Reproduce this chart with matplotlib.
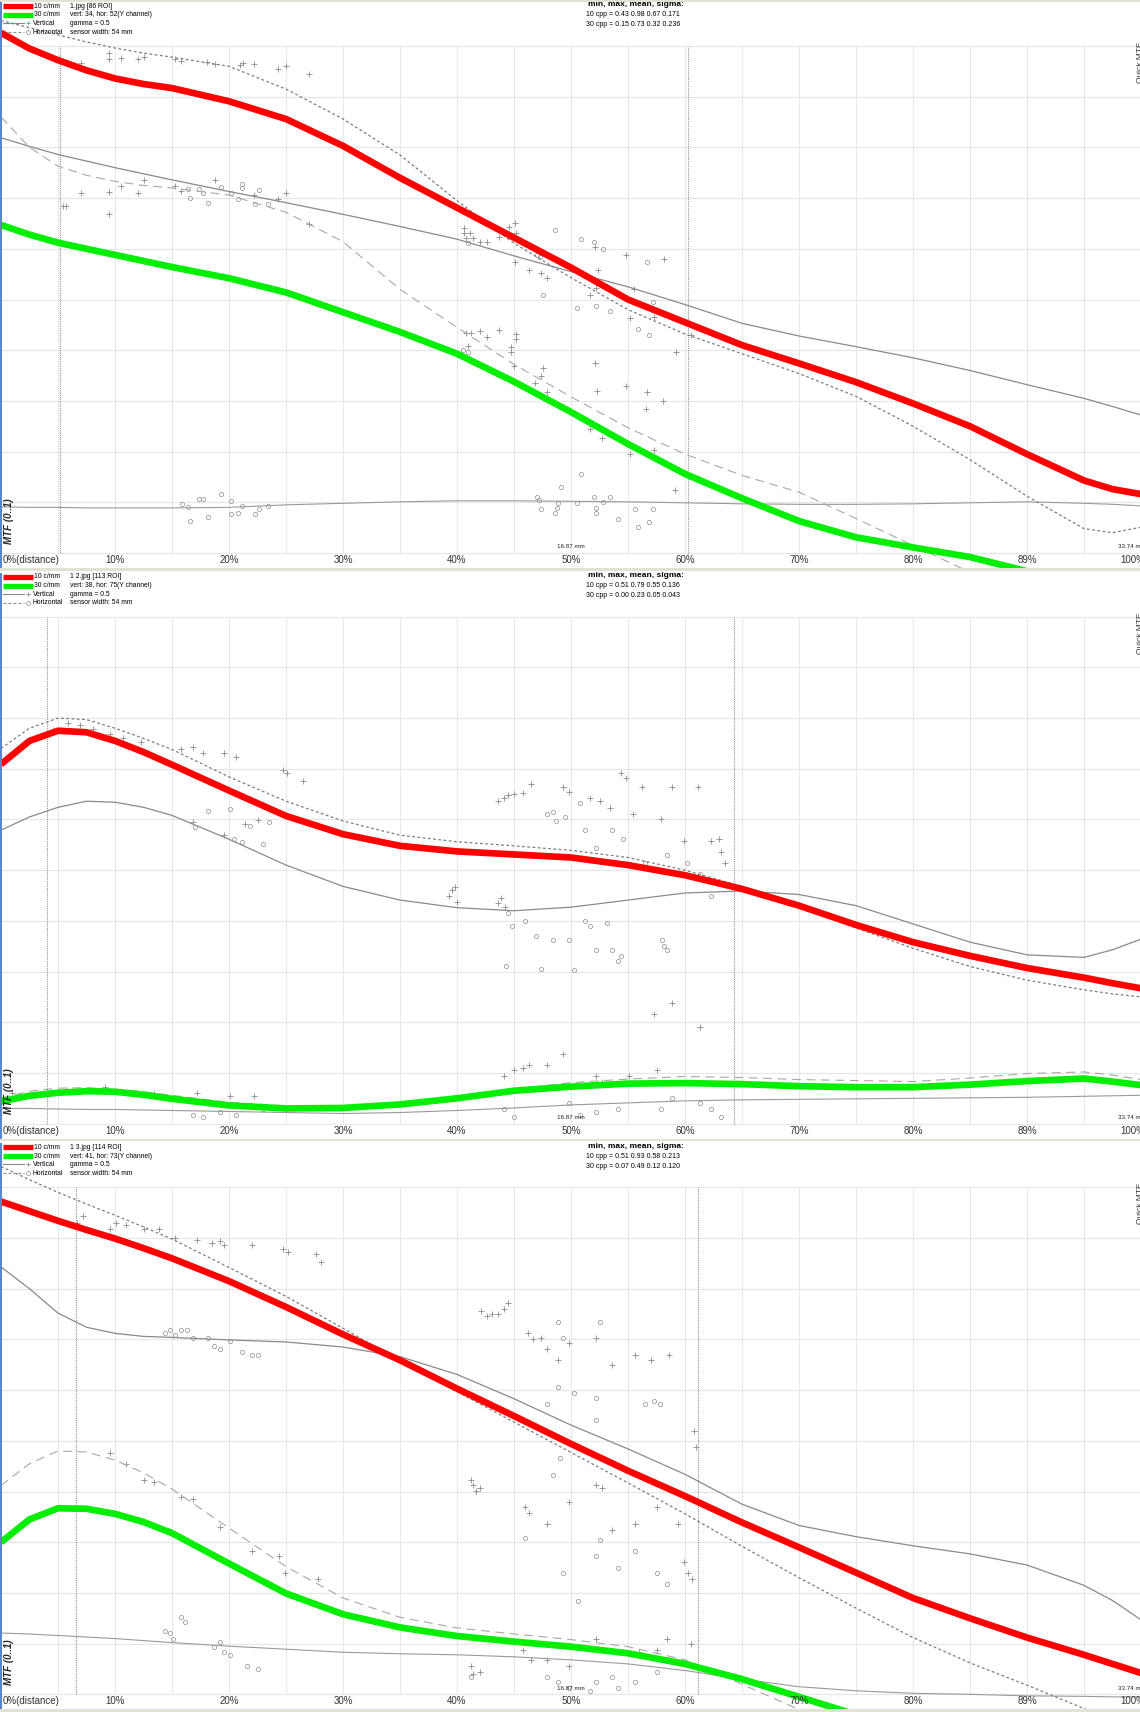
import numpy as np
import matplotlib.pyplot as plt
from matplotlib.patches import Rectangle

plt.rcParams['font.family'] = ['Liberation Sans', 'DejaVu Sans']

# distance from centre, % of the frame (denser where the curves bend)
pos = [0, 2.5, 5, 7.5, 10, 12.5, 15, 20, 25, 30, 35, 40, 45, 50, 55, 60, 65, 70, 75, 80, 85, 90, 95, 97.5, 100]
tick_pos = [0, 10, 20, 30, 40, 50, 60, 70, 80, 90, 99.3]
tick_labels = ['0%(distance)', '10%', '20%', '30%', '40%', '50%', '60%', '70%', '80%', '89%', '100%']

# ---- panel 1 : 1.jpg
p1_red = [1.026, 0.995, 0.972, 0.952, 0.936, 0.925, 0.917, 0.891, 0.856, 0.803, 0.740, 0.681, 0.622,
          0.563, 0.500, 0.455, 0.410, 0.374, 0.337, 0.295, 0.250, 0.195, 0.143, 0.126, 0.116]
p1_green = [0.647, 0.628, 0.612, 0.600, 0.588, 0.576, 0.564, 0.542, 0.514, 0.475, 0.436, 0.393, 0.338,
            0.278, 0.215, 0.156, 0.108, 0.063, 0.031, 0.011, -0.008, -0.036, -0.06, -0.07, -0.08]
p1_v10 = [0.819, 0.802, 0.786, 0.773, 0.760, 0.748, 0.736, 0.713, 0.691, 0.668, 0.644, 0.619, 0.586,
          0.555, 0.525, 0.490, 0.453, 0.428, 0.407, 0.385, 0.360, 0.332, 0.305, 0.289, 0.272]
p1_h10 = [1.05, 1.036, 1.022, 1.008, 0.996, 0.986, 0.978, 0.960, 0.915, 0.856, 0.785, 0.695, 0.611,
          0.543, 0.480, 0.432, 0.393, 0.354, 0.309, 0.250, 0.184, 0.112, 0.048, 0.040, 0.051]
p1_v30 = [0.091, 0.090, 0.090, 0.089, 0.089, 0.089, 0.089, 0.090, 0.095, 0.098, 0.101, 0.103, 0.103,
          0.102, 0.101, 0.099, 0.097, 0.096, 0.096, 0.097, 0.099, 0.101, 0.098, 0.096, 0.093]
p1_h30 = [0.860, 0.800, 0.763, 0.745, 0.733, 0.725, 0.720, 0.706, 0.672, 0.614, 0.520, 0.445, 0.372,
          0.308, 0.247, 0.195, 0.153, 0.120, 0.068, 0.015, -0.038, -0.09, -0.14, -0.165, -0.19]
p1_plus_x = [5.2, 7.0, 9.5, 9.5, 10.5, 12.0, 12.5, 15.3, 15.8, 18.1, 18.8, 21.0, 21.2, 22.2, 24.3, 25.0, 27.0,
             5.4, 5.7, 7.0, 9.5, 9.5, 10.5, 12.0, 12.5, 15.3, 15.8, 18.8, 22.2, 24.3, 25.0, 27.0,
             40.6, 40.6, 40.8, 41.1, 41.4, 42.0, 42.6, 43.7, 44.6, 45.1, 45.2, 45.1, 46.3, 47.4, 47.9,
             52.1, 52.4, 51.7, 54.8, 58.2, 55.5, 52.2, 55.2, 57.3, 59.2, 60.5,
             40.8, 41.2, 41.0, 42.0, 42.6, 43.7, 44.7, 44.7, 45.2, 45.2, 45.0, 46.8, 47.5, 47.4, 47.9,
             51.7, 52.1, 52.3, 54.8, 56.7, 56.6, 58.1, 52.7, 55.2, 57.3, 59.1]
p1_plus_y = [0.976, 0.966, 0.986, 0.974, 0.976, 0.974, 0.978, 0.974, 0.970, 0.968, 0.964, 0.962, 0.966, 0.964, 0.955, 0.961, 0.945,
             0.684, 0.684, 0.710, 0.712, 0.669, 0.724, 0.710, 0.736, 0.724, 0.714, 0.736, 0.706, 0.698, 0.710, 0.649,
             0.641, 0.631, 0.621, 0.631, 0.621, 0.613, 0.613, 0.623, 0.643, 0.651, 0.631, 0.574, 0.558, 0.552, 0.542,
             0.604, 0.558, 0.509, 0.588, 0.580, 0.521, 0.523, 0.464, 0.465, 0.396, 0.430,
             0.434, 0.434, 0.408, 0.438, 0.426, 0.440, 0.406, 0.396, 0.432, 0.422, 0.369, 0.335, 0.365, 0.349, 0.318,
             0.245, 0.375, 0.320, 0.329, 0.318, 0.284, 0.300, 0.227, 0.195, 0.203, 0.124]
p1_circ_x = [16.4, 16.6, 17.4, 17.7, 18.2, 19.3, 20.2, 20.8, 21.1, 21.1, 22.3, 22.6, 23.4,
             41.0, 47.0, 47.3, 48.6, 47.5, 50.9, 52.0, 52.8, 56.7, 40.5, 41.0, 50.5, 52.2, 53.4, 55.9, 56.8, 57.2,
             15.9, 16.4, 16.6, 17.4, 17.7, 18.2, 19.3, 20.2, 20.2, 20.8, 21.1, 22.3, 22.6, 23.4,
             47.0, 47.2, 47.4, 48.6, 48.8, 48.9, 49.1, 50.5, 50.9, 52.0, 52.2, 52.2, 52.8, 53.4, 55.6, 57.2, 54.1, 56.8, 55.9]
p1_circ_y = [0.718, 0.700, 0.718, 0.710, 0.690, 0.722, 0.710, 0.698, 0.720, 0.728, 0.688, 0.716, 0.688,
             0.611, 0.588, 0.584, 0.637, 0.509, 0.619, 0.613, 0.600, 0.574, 0.400, 0.396, 0.483, 0.487, 0.477, 0.442, 0.430, 0.495,
             0.097, 0.091, 0.063, 0.107, 0.107, 0.071, 0.116, 0.103, 0.077, 0.079, 0.093, 0.077, 0.087, 0.093,
             0.110, 0.105, 0.087, 0.079, 0.089, 0.099, 0.130, 0.099, 0.156, 0.110, 0.089, 0.079, 0.101, 0.110, 0.087, 0.087, 0.067, 0.061, 0.051]
p1_marks = [5.2, 60.3]
p1_info = ['1.jpg [86 ROI]', 'vert: 34, hor: 52(Y channel)', 'gamma = 0.5', 'sensor width: 54 mm']
p1_stats = ['10 cpp = 0.43 0.98 0.67 0.171', '30 cpp = 0.15 0.73 0.32 0.236']

# ---- panel 2 : 1 2.jpg
p2_red = [0.709, 0.755, 0.775, 0.772, 0.755, 0.733, 0.708, 0.657, 0.607, 0.571, 0.548, 0.537, 0.531,
          0.525, 0.510, 0.490, 0.463, 0.430, 0.392, 0.358, 0.331, 0.307, 0.288, 0.277, 0.267]
p2_green = [0.044, 0.055, 0.061, 0.064, 0.063, 0.057, 0.049, 0.036, 0.030, 0.031, 0.038, 0.050, 0.065,
            0.073, 0.079, 0.080, 0.078, 0.074, 0.072, 0.072, 0.077, 0.084, 0.089, 0.083, 0.076]
p2_v10 = [0.579, 0.605, 0.624, 0.636, 0.634, 0.624, 0.608, 0.561, 0.510, 0.468, 0.441, 0.426, 0.420,
          0.427, 0.441, 0.455, 0.459, 0.452, 0.430, 0.394, 0.358, 0.333, 0.328, 0.343, 0.364]
p2_h10 = [0.740, 0.780, 0.800, 0.797, 0.780, 0.760, 0.738, 0.684, 0.636, 0.597, 0.569, 0.556, 0.548,
          0.539, 0.525, 0.500, 0.468, 0.428, 0.386, 0.346, 0.310, 0.283, 0.264, 0.256, 0.250]
p2_v30 = [0.030, 0.030, 0.029, 0.028, 0.028, 0.027, 0.026, 0.024, 0.022, 0.020, 0.022, 0.026, 0.031,
          0.037, 0.041, 0.045, 0.047, 0.048, 0.049, 0.050, 0.051, 0.052, 0.054, 0.055, 0.056]
p2_h30 = [0.051, 0.064, 0.070, 0.071, 0.068, 0.063, 0.056, 0.042, 0.035, 0.033, 0.040, 0.054, 0.068,
          0.081, 0.088, 0.093, 0.091, 0.087, 0.085, 0.083, 0.090, 0.099, 0.102, 0.096, 0.087]
p2_plus_x = [4.6, 5.9, 6.9, 8.1, 9.6, 10.7, 12.3, 15.8, 16.8, 17.7, 19.6, 20.6, 24.7, 25.1, 26.5,
             16.8, 19.6, 21.4, 22.5,
             43.6, 44.1, 44.5, 45.0, 45.8, 46.5, 49.3, 49.8, 51.7, 52.5, 53.4, 54.4, 54.8, 55.4, 56.2, 57.9,
             58.9, 59.9, 61.1, 62.3, 63.0, 63.2, 63.5, 57.3, 58.9, 61.3,
             39.3, 39.6, 39.8, 40.0, 43.6, 43.9, 44.2,
             1.0, 5.7, 9.1, 13.4, 17.2, 20.1, 22.2, 44.1, 45.0, 45.8, 46.3, 47.9, 49.3, 52.2, 52.7, 55.1, 57.5]
p2_plus_y = [0.777, 0.790, 0.786, 0.779, 0.769, 0.760, 0.752, 0.739, 0.743, 0.731, 0.731, 0.724, 0.698, 0.692, 0.675,
             0.595, 0.569, 0.591, 0.599,
             0.637, 0.643, 0.648, 0.650, 0.653, 0.670, 0.665, 0.654, 0.643, 0.637, 0.622, 0.691, 0.682, 0.611, 0.665, 0.600,
             0.665, 0.557, 0.665, 0.557, 0.561, 0.536, 0.514, 0.216, 0.238, 0.190,
             0.449, 0.460, 0.466, 0.438, 0.436, 0.445, 0.428,
             0.061, 0.066, 0.072, 0.061, 0.061, 0.055, 0.055, 0.094, 0.105, 0.109, 0.115, 0.115, 0.137, 0.094, 0.083, 0.094, 0.105]
p2_circ_x = [17.0, 18.2, 20.1, 20.4, 21.1, 21.8, 23.0, 23.5,
             44.5, 44.8, 44.3, 46.0, 46.9, 47.4, 47.9, 48.4, 48.7, 49.5, 48.4, 49.8, 50.3, 51.2, 51.7, 52.2, 53.2,
             53.6, 54.1, 54.4, 58.0, 58.2, 58.4, 50.8, 51.2, 52.2, 53.6, 54.6, 56.5, 58.4, 60.2, 61.3, 62.3,
             16.8, 17.7, 19.2, 20.6, 23.0, 44.1, 45.0, 49.8, 50.8, 52.2, 54.1, 57.9, 58.9, 61.3, 62.3, 63.2]
p2_circ_y = [0.585, 0.617, 0.621, 0.561, 0.556, 0.587, 0.552, 0.595,
             0.415, 0.389, 0.311, 0.400, 0.370, 0.305, 0.611, 0.615, 0.596, 0.605, 0.363, 0.363, 0.303, 0.400, 0.389, 0.342, 0.395,
             0.342, 0.320, 0.331, 0.363, 0.350, 0.342, 0.633, 0.579, 0.544, 0.579, 0.561, 0.514, 0.529, 0.514, 0.492, 0.449,
             0.018, 0.014, 0.023, 0.018, 0.029, 0.029, 0.014, 0.040, 0.018, 0.023, 0.029, 0.029, 0.051, 0.040, 0.029, 0.014]
p2_marks = [4.0, 64.3]
p2_info = ['1 2.jpg [113 ROI]', 'vert: 38, hor: 75(Y channel)', 'gamma = 0.5', 'sensor width: 54 mm']
p2_stats = ['10 cpp = 0.51 0.79 0.55 0.136', '30 cpp = 0.00 0.23 0.05 0.043']

# ---- panel 3 : 1 3.jpg
p3_red = [0.972, 0.953, 0.934, 0.916, 0.899, 0.880, 0.860, 0.815, 0.764, 0.710, 0.659, 0.603, 0.549,
          0.494, 0.441, 0.391, 0.339, 0.290, 0.240, 0.190, 0.150, 0.112, 0.078, 0.060, 0.042]
p3_green = [0.300, 0.345, 0.367, 0.366, 0.356, 0.340, 0.318, 0.258, 0.199, 0.158, 0.132, 0.115, 0.104,
            0.094, 0.081, 0.060, 0.030, -0.005, -0.040, -0.08, -0.12, -0.16, -0.2, -0.22, -0.24]
p3_v10 = [0.843, 0.800, 0.752, 0.724, 0.712, 0.706, 0.704, 0.699, 0.695, 0.685, 0.666, 0.631, 0.583,
          0.531, 0.484, 0.434, 0.375, 0.333, 0.311, 0.293, 0.277, 0.255, 0.215, 0.185, 0.147]
p3_h10 = [1.041, 1.015, 0.990, 0.967, 0.945, 0.922, 0.898, 0.842, 0.785, 0.722, 0.658, 0.597, 0.537,
          0.477, 0.417, 0.356, 0.292, 0.230, 0.170, 0.112, 0.062, 0.018, -0.028, -0.05, -0.07]
p3_v30 = [0.121, 0.119, 0.116, 0.113, 0.110, 0.106, 0.102, 0.095, 0.089, 0.083, 0.080, 0.078, 0.074,
          0.068, 0.060, 0.047, 0.030, 0.015, 0.007, 0.002, 0.000, -0.003, -0.004, -0.005, -0.005]
p3_h30 = [0.412, 0.455, 0.480, 0.478, 0.462, 0.437, 0.405, 0.328, 0.252, 0.190, 0.152, 0.131, 0.119,
          0.108, 0.094, 0.068, 0.020, -0.030, -0.08, -0.13, -0.18, -0.23, -0.28, -0.3, -0.33]
p3_plus_x = [6.7, 7.2, 9.6, 10.1, 11.0, 12.5, 13.9, 15.3, 17.2, 18.5, 19.2, 19.6, 22.0, 24.7, 25.2, 27.6, 28.1,
             9.6, 11.0, 12.5, 13.4, 15.8, 16.8, 19.2, 22.0, 24.4, 24.9, 27.8,
             42.1, 42.6, 43.1, 43.6, 44.1, 44.5, 46.2, 46.7, 47.4, 47.9, 48.9, 49.8, 52.2, 53.6, 55.6, 57.0, 58.6,
             41.2, 41.4, 41.7, 42.0, 46.0, 46.3, 47.9, 49.8, 52.2, 52.7, 53.6, 55.6, 57.5, 59.4, 59.9, 60.3, 60.6, 60.8, 61.0,
             41.2, 41.4, 42.0, 45.8, 46.5, 47.9, 49.8, 52.2, 56.0, 57.5, 58.4, 60.5]
p3_plus_y = [0.929, 0.944, 0.918, 0.929, 0.925, 0.918, 0.918, 0.901, 0.897, 0.890, 0.894, 0.886, 0.886, 0.879, 0.873, 0.869, 0.853,
             0.476, 0.455, 0.422, 0.418, 0.390, 0.386, 0.330, 0.282, 0.272, 0.239, 0.228,
             0.756, 0.746, 0.750, 0.750, 0.761, 0.772, 0.713, 0.700, 0.703, 0.681, 0.659, 0.692, 0.703, 0.649, 0.670, 0.659, 0.670,
             0.422, 0.412, 0.401, 0.407, 0.369, 0.358, 0.336, 0.379, 0.412, 0.407, 0.325, 0.336, 0.369, 0.336, 0.261, 0.239, 0.228, 0.519, 0.487,
             0.056, 0.041, 0.045, 0.088, 0.067, 0.067, 0.056, 0.110, 0.084, 0.088, 0.110, 0.099]
p3_circ_x = [14.4, 14.8, 15.3, 15.8, 16.3, 16.8, 18.2, 18.7, 19.2, 20.1, 21.1, 22.0, 22.5,
             14.4, 14.8, 15.1, 15.8, 16.1, 18.7, 19.6, 20.1, 21.6, 22.5, 19.2,
             48.9, 49.3, 48.9, 50.3, 52.2, 52.5, 56.5, 57.3, 57.8, 47.9, 52.2,
             46.0, 48.4, 49.0, 51.7, 52.2, 52.5, 54.1, 55.6, 57.5, 58.4, 49.3, 50.6,
             41.2, 47.9, 48.9, 49.8, 51.7, 52.2, 53.6, 54.1, 55.6, 57.5, 58.4]
p3_circ_y = [0.713, 0.718, 0.709, 0.718, 0.718, 0.703, 0.703, 0.688, 0.681, 0.696, 0.675, 0.670, 0.670,
             0.125, 0.121, 0.110, 0.153, 0.142, 0.093, 0.084, 0.078, 0.056, 0.050, 0.103,
             0.735, 0.703, 0.606, 0.595, 0.584, 0.735, 0.573, 0.578, 0.573, 0.573, 0.541,
             0.308, 0.433, 0.466, 0.476, 0.272, 0.304, 0.250, 0.282, 0.239, 0.218, 0.239, 0.185,
             0.034, 0.034, 0.024, 0.013, 0.006, 0.024, 0.034, 0.013, 0.024, 0.045, 0.067]
p3_marks = [6.6, 61.1]
p3_info = ['1 3.jpg [114 ROI]', 'vert: 41, hor: 73(Y channel)', 'gamma = 0.5', 'sensor width: 54 mm']
p3_stats = ['10 cpp = 0.51 0.93 0.58 0.213', '30 cpp = 0.07 0.49 0.12 0.120']

panels = [
    (p1_red, p1_green, p1_v10, p1_h10, p1_v30, p1_h30, p1_plus_x, p1_plus_y, p1_circ_x, p1_circ_y, p1_marks, p1_info, p1_stats),
    (p2_red, p2_green, p2_v10, p2_h10, p2_v30, p2_h30, p2_plus_x, p2_plus_y, p2_circ_x, p2_circ_y, p2_marks, p2_info, p2_stats),
    (p3_red, p3_green, p3_v10, p3_h10, p3_v30, p3_h30, p3_plus_x, p3_plus_y, p3_circ_x, p3_circ_y, p3_marks, p3_info, p3_stats),
]

W, H = 1140, 1712
PH = H / 3.0
fig = plt.figure(figsize=(W / 100, H / 100), dpi=100)
fig.patch.set_facecolor('white')


# pixel helpers inside one panel (x from left, y from top of panel)
def hx(px):
    return (px - 1) / 11.40


def hy(py):
    return (553 - py) / 507.0


gray = '#8a8a8a'
for k, (red, green, v10, h10, v30, h30, px_, py_, cx_, cy_, marks, info, stats) in enumerate(panels):
    top = PH * k + 2
    bot = PH * k + 568
    ax = fig.add_axes([1 / W, 1 - bot / H, 1139 / W, (bot - top) / H])
    ax.set_xlim(0, 99.91)
    ax.set_ylim(hy(568), hy(2))
    ax.axis('off')

    # grid: every 5 % and every 0.1
    ax.vlines(np.arange(0, 101, 5), 0, 1, color='#e8e8e8', lw=0.8, zorder=0)
    ax.hlines(np.arange(0, 1.01, 0.1), 0, 100, color='#e6e6e6', lw=0.8, zorder=0)
    ax.vlines(marks, 0, 1, color='#909090', lw=0.8, linestyles=(0, (1, 1)), zorder=1)

    ax.plot(px_, py_, ls='none', marker='+', ms=4, mew=0.6, color='#8c8c8c', zorder=2)
    ax.plot(cx_, cy_, ls='none', marker='o', ms=3, mew=0.5, mfc='none', mec='#8c8c8c', zorder=2)

    ax.plot(pos, v30, color='#9a9a9a', lw=0.8, zorder=3)
    ax.plot(pos, h30, color='#a8a8a8', lw=0.8, ls=(0, (8, 5)), zorder=3)
    ax.plot(pos, v10, color=gray, lw=0.9, zorder=3)
    ax.plot(pos, h10, color='#7c7c7c', lw=0.9, ls=(0, (2.2, 2)), zorder=3)
    ax.plot(pos, green, color='#00ee00', lw=4.8, solid_capstyle='butt', solid_joinstyle='round', zorder=4)
    ax.plot(pos, red, color='#ff0000', lw=4.8, solid_capstyle='butt', solid_joinstyle='round', zorder=5)

    # axis texts
    for t, lab in zip(tick_pos, tick_labels):
        ax.text(t if t else 0.1, hy(560), lab, ha='left' if t == 0 else 'center', va='center',
                fontsize=7, color='#333333', zorder=6)
    ax.text(hx(9), hy(521), 'MTF (0..1)', rotation=90, ha='center', va='center',
            fontsize=7, fontweight='bold', fontstyle='italic', color='#222222', zorder=6)
    ax.text(50, hy(547), '16.87 mm', ha='center', va='center', fontsize=4.5, color='#222222', zorder=6)
    ax.text(hx(1118), hy(547), '33.74 mm', ha='left', va='center', fontsize=4.5, color='#222222', zorder=6)
    ax.text(hx(1137), hy(42), 'Quick MTF', rotation=90, ha='left', va='top', fontsize=6,
            color='#333333', zorder=6, clip_on=True)

    # header legend
    ax.plot([hx(3), hx(33)], [hy(6)] * 2, color='#ff0000', lw=3.8, solid_capstyle='butt', clip_on=False)
    ax.plot([hx(3), hx(33)], [hy(15)] * 2, color='#00ee00', lw=3.8, solid_capstyle='butt', clip_on=False)
    ax.plot([hx(3), hx(24)], [hy(23)] * 2, color=gray, lw=0.8, clip_on=False)
    ax.plot([hx(28)], [hy(23)], marker='+', ms=3.5, mew=0.6, color=gray, clip_on=False)
    ax.plot([hx(3), hx(24)], [hy(32)] * 2, color=gray, lw=0.8, ls=(0, (2.5, 2)), clip_on=False)
    ax.plot([hx(27.5)], [hy(32)], marker='o', ms=2.8, mew=0.5, mfc='none', mec=gray, clip_on=False)
    for i, lab in enumerate(['10 c/mm', '30 c/mm', 'Vertical', 'Horizontal']):
        ax.text(hx(34 if i < 2 else 32.5), hy(6 + 8.7 * i), lab, ha='left', va='center', fontsize=4.9, zorder=6)
        ax.text(hx(70), hy(6 + 8.7 * i), info[i], ha='left', va='center', fontsize=4.9, zorder=6)
    ax.text(hx(636), hy(5), 'min, max, mean, sigma:', ha='center', va='center', fontsize=6,
            fontweight='bold', zorder=6)
    ax.text(hx(633), hy(15), stats[0], ha='center', va='center', fontsize=5.0, zorder=6)
    ax.text(hx(633), hy(25), stats[1], ha='center', va='center', fontsize=5.0, zorder=6)

    # window decorations: blue left border and beige separator
    fig.add_artist(Rectangle((0, 1 - bot / H), 1.6 / W, (bot - top) / H, transform=fig.transFigure,
                             color='#5b86c8', lw=0))
    fig.add_artist(Rectangle((0, 1 - (PH * (k + 1)) / H), 1, 2.6 / H, transform=fig.transFigure,
                             color='#e3e0d4', lw=0))

fig.add_artist(Rectangle((0, 1 - 2 / H), 1, 2 / H, transform=fig.transFigure, color='#e3e0d4', lw=0))
fig.savefig('out.png', dpi=100, facecolor='white')
